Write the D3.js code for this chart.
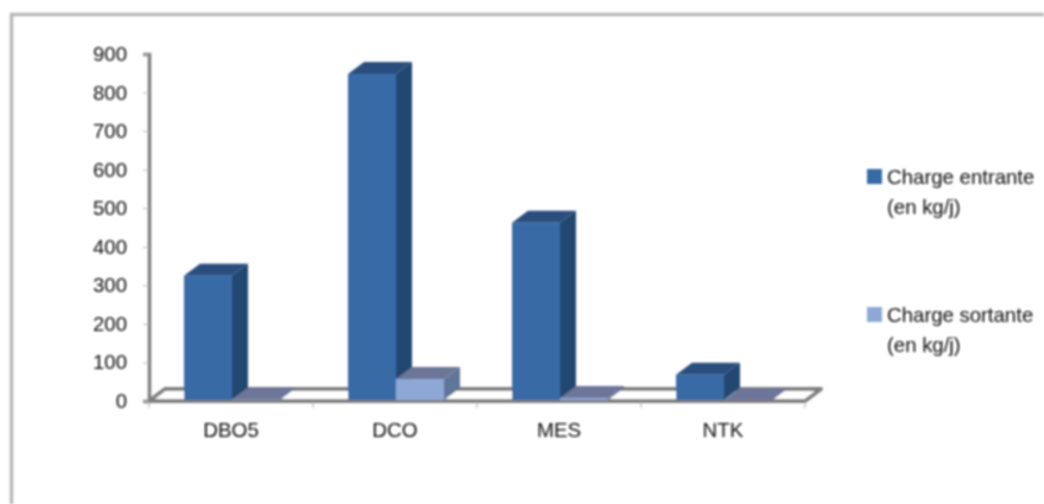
<!DOCTYPE html>
<html><head><meta charset="utf-8">
<style>html,body{margin:0;padding:0;background:#fff}svg{display:block}text{font-family:"Liberation Sans",Arial,sans-serif;fill:#111}</style>
<script src="https://cdn.jsdelivr.net/npm/d3@7/dist/d3.min.js"></script></head>
<body><svg id="c" width="1044" height="504"></svg>
<script>
const categories=["DBO5","DCO","MES","NTK"];
const seriesNames=["Charge entrante","Charge sortante"];
const legendSecondLine="(en kg/j)";
const chargeEntrante=[325,848,462,68];
const chargeSortante=[4,57,8,2];
const yTicks=[0,100,200,300,400,500,600,700,800,900];
const seriesValues=[chargeEntrante,chargeSortante];
const palette=[{front:"#386aa6",side:"#23466f",top:"#2a4e7e"},{front:"#8ea8d6",side:"#5f7599",top:"#6d7699"}];
const W=1044,H=504,dx=16,dy=12;
const svg=d3.select("#c");
const defs=svg.append("defs");
defs.append("filter").attr("id","soft").append("feGaussianBlur").attr("stdDeviation",0.8);
svg.append("path").attr("d",`M11.5,${H}V14.5H${W}`).attr("fill","none").attr("stroke","#b8b8b8").attr("stroke-width",3.5).attr("filter","url(#soft)");
const g=svg.append("g").attr("filter","url(#soft)");
const x=d3.scaleBand().domain(categories).range([149,805]);
const inner=d3.scaleBand().domain([0,1]).range([35,x.bandwidth()-33]);
const y=d3.scaleLinear().domain([0,900]).range([401,54]);
const axisCol="#7f7f7f";
const fs=20.4;
const textCol="#000";
// floor
g.append("path").attr("d",`M${x.range()[0]},${y(0)}L${x.range()[0]+dx},${y(0)-dy}H${x.range()[1]+dx}L${x.range()[1]},${y(0)}Z`)
 .attr("fill","#fff").attr("stroke",axisCol).attr("stroke-width",4).attr("stroke-linejoin","round");
// y axis
const ya=g.append("g").attr("transform","translate(149,0)").call(d3.axisLeft(y).tickValues(yTicks).tickSize(6).tickPadding(16));
ya.selectAll("path").attr("stroke",axisCol).attr("stroke-width",3.5);
ya.selectAll("line").attr("stroke","#b5b5b5");
ya.selectAll("text").attr("font-size",fs).attr("font-family",'"Liberation Sans"').attr("fill",textCol);
// x axis
const xa=g.append("g").attr("transform",`translate(0,${y(0)})`).call(d3.axisBottom(x).tickValues(categories).tickSize(0).tickPadding(22));
xa.select("path").remove();
xa.selectAll("line").remove();
xa.selectAll("text").attr("font-size",fs).attr("font-family",'"Liberation Sans"').attr("fill",textCol);
g.append("g").selectAll("line").data(d3.range(5)).join("line")
 .attr("x1",i=>149+i*x.step()).attr("x2",i=>149+i*x.step()).attr("y1",y(0)).attr("y2",y(0)+7).attr("stroke","#a5a5a5");
// 3D bars
categories.forEach((c,ci)=>{
 seriesValues.forEach((vals,si)=>{
  const bx=x(c)+inner(si),bw=inner.bandwidth(),t=y(vals[ci]),b=y(0)-1,p=palette[si];
  const bar=g.append("g");
  bar.append("path").attr("d",`M${bx+bw},${t}L${bx+bw+dx},${t-dy}V${b-dy}L${bx+bw},${b}Z`).attr("fill",p.side);
  bar.append("path").attr("d",`M${bx},${t}L${bx+dx},${t-dy}H${bx+bw+dx}L${bx+bw},${t}Z`).attr("fill",p.top);
  bar.append("rect").attr("x",bx).attr("y",t).attr("width",bw).attr("height",Math.max(0,b-t)).attr("fill",p.front);
 });
});
// legend
const lg=g.append("g");
[[177,seriesNames[0]],[315,seriesNames[1]]].forEach(([ly,name],i)=>{
 lg.append("rect").attr("x",867).attr("y",ly-8).attr("width",15).attr("height",15).attr("fill",palette[i].front);
 lg.append("text").attr("x",887).attr("y",ly+7).attr("font-size",fs).attr("fill",textCol).text(name);
 lg.append("text").attr("x",887).attr("y",ly+37).attr("font-size",fs).attr("fill",textCol).text(legendSecondLine);
});
</script></body></html>
